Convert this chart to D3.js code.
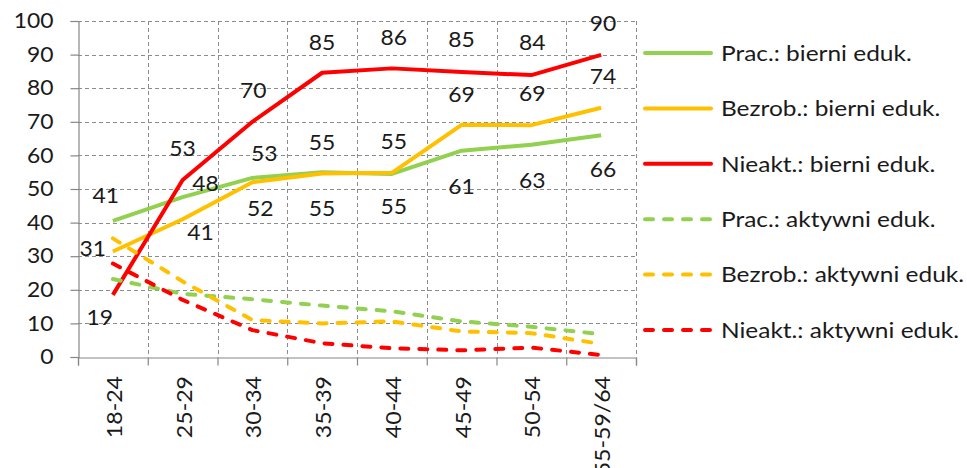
<!DOCTYPE html>
<html>
<head>
<meta charset="utf-8">
<script src="https://cdn.jsdelivr.net/npm/d3@7"></script>
<style>
  html, body { margin: 0; padding: 0; background: #fff; }
  svg { display: block; }
  text { font-family: Lato, "Open Sans", sans-serif; fill: #1a1a1a; }
</style>
</head>
<body>
<svg id="chart" width="967" height="468"></svg>
<script>
// ---- data ----
const categories = ["18-24", "25-29", "30-34", "35-39", "40-44", "45-49", "50-54", "55-59/64"];
const yTicks = [0, 10, 20, 30, 40, 50, 60, 70, 80, 90, 100];

const seriesNames = [
  "Prac.: bierni eduk.",
  "Bezrob.: bierni eduk.",
  "Nieakt.: bierni eduk.",
  "Prac.: aktywni eduk.",
  "Bezrob.: aktywni eduk.",
  "Nieakt.: aktywni eduk."
];
const pracBierni    = [40.5, 47.6, 53.3, 55.0, 54.5, 61.4, 63.2, 66.0];
const bezrobBierni  = [31.4, 41.0, 52.0, 54.6, 54.8, 69.1, 69.0, 74.2];
const nieaktBierni  = [18.5, 52.7, 70.0, 84.6, 85.9, 84.8, 83.9, 89.9];
const pracAktywni   = [23.2, 18.8, 17.2, 15.3, 13.6, 10.6, 9.0, 6.8];
const bezrobAktywni = [35.3, 22.5, 11.0, 10.0, 10.6, 7.6, 7.1, 3.9];
const nieaktAktywni = [27.8, 17.0, 8.0, 4.1, 2.6, 2.0, 2.8, 0.6];

// ---- styling ----
const colors = ["#92D050", "#FFC000", "#FF0000", "#92D050", "#FFC000", "#FF0000"];
const dashed = [false, false, false, true, true, true];
const showLabels = [true, true, true, false, false, false];
// data-label offsets (label centre relative to point), per series
const labelOffsets = [
  [[-7,-26],[23,-14],[12,-25],[0,-30],[2,-33],[0,35],[1,35],[2,34]],
  [[-20,-4],[18,13],[8,26],[0,34],[2,33],[0,-31],[1,-32],[2,-32]],
  [[-13,22],[0,-32],[1,-32],[0,-31],[2,-32],[0,-33],[1,-33],[2,-32]]
];
const fontSize = 21;
const numStretch = 1.09;     // horizontal stretch of numerals
const catStretch = 1.1;      // stretch along rotated category labels
const legendStretch = 1.165; // stretch of legend text

const allValues = [pracBierni, bezrobBierni, nieaktBierni, pracAktywni, bezrobAktywni, nieaktAktywni];

const svg = d3.select("#chart");
const plotLeft = 78, plotRight = 636, plotTop = 21, plotBottom = 357;

const x = d3.scaleBand().domain(categories).range([plotLeft, plotRight]).paddingInner(0).paddingOuter(0);
const y = d3.scaleLinear().domain([0, 100]).range([plotBottom, plotTop]);
const cx = c => x(c) + x.bandwidth() / 2;

// grid
const grid = svg.append("g").attr("stroke", "#8c8c8c").attr("stroke-width", 1).attr("stroke-dasharray", "4,3");
yTicks.filter(t => t > 0).forEach(t => {
  grid.append("line").attr("x1", plotLeft).attr("x2", plotRight)
    .attr("y1", Math.round(y(t)) + 0.5).attr("y2", Math.round(y(t)) + 0.5);
});
const boundaries = categories.map(c => x(c)).slice(1).concat([plotRight]);
boundaries.forEach(b => {
  grid.append("line").attr("x1", Math.round(b) + 0.5).attr("x2", Math.round(b) + 0.5)
    .attr("y1", plotTop).attr("y2", plotBottom);
});

// y axis
const yAxis = d3.axisLeft(y).tickValues(yTicks).tickSize(8).tickPadding(17).tickFormat(d3.format("d"));
const gy = svg.append("g").attr("transform", `translate(${plotLeft + 0.5},0)`).call(yAxis);
gy.selectAll("path, line").attr("stroke", "#868686").attr("stroke-width", 1.2);
gy.selectAll("text")
  .attr("font-size", fontSize).attr("font-family", "Lato").attr("fill", "#1a1a1a")
  .attr("x", -25 / numStretch)
  .attr("transform", `scale(${numStretch},1)`);

// x axis: ticks at category boundaries
const xb = d3.scaleLinear().domain([0, categories.length]).range([plotLeft, plotRight]);
const xAxis = d3.axisBottom(xb).tickValues(d3.range(categories.length + 1)).tickSize(8).tickFormat("");
const gx = svg.append("g").attr("transform", `translate(0,${plotBottom + 0.5})`).call(xAxis);
gx.selectAll("path, line").attr("stroke", "#868686").attr("stroke-width", 1.2);

// x labels (rotated)
svg.append("g").selectAll("text").data(categories).join("text")
  .attr("transform", d => `translate(${cx(d) + 1},376) rotate(-90) scale(${catStretch},1)`)
  .attr("text-anchor", "end")
  .attr("dominant-baseline", "central")
  .attr("font-size", fontSize)
  .text(d => d);

// lines
const line = d3.line().x((d, i) => cx(categories[i])).y(d => y(d));
allValues.forEach((vals, s) => {
  svg.append("path").datum(vals)
    .attr("fill", "none")
    .attr("stroke", colors[s])
    .attr("stroke-width", 4)
    .attr("stroke-linejoin", "round")
    .attr("stroke-linecap", dashed[s] ? "round" : "butt")
    .attr("stroke-dasharray", dashed[s] ? "8,11" : null)
    .attr("d", line);
});

// data labels
allValues.forEach((vals, s) => {
  if (!showLabels[s]) return;
  svg.append("g").selectAll("text").data(vals).join("text")
    .attr("transform", (d, i) =>
      `translate(${cx(categories[i]) + labelOffsets[s][i][0]},${y(d) + labelOffsets[s][i][1]}) scale(${numStretch},1)`)
    .attr("text-anchor", "middle")
    .attr("dominant-baseline", "central")
    .attr("font-size", fontSize)
    .text(d => Math.round(d));
});

// legend
const legend = svg.append("g");
seriesNames.forEach((name, s) => {
  const ly = 53 + s * 55.4;
  legend.append("line").attr("x1", 645).attr("x2", 711).attr("y1", ly).attr("y2", ly)
    .attr("stroke", colors[s]).attr("stroke-width", 4)
    .attr("stroke-linecap", "round")
    .attr("stroke-dasharray", dashed[s] ? "8,11" : null);
  legend.append("text")
    .attr("transform", `translate(721,${ly}) scale(${legendStretch},1)`)
    .attr("dominant-baseline", "central")
    .attr("font-size", fontSize).text(name);
});
</script>
</body>
</html>
